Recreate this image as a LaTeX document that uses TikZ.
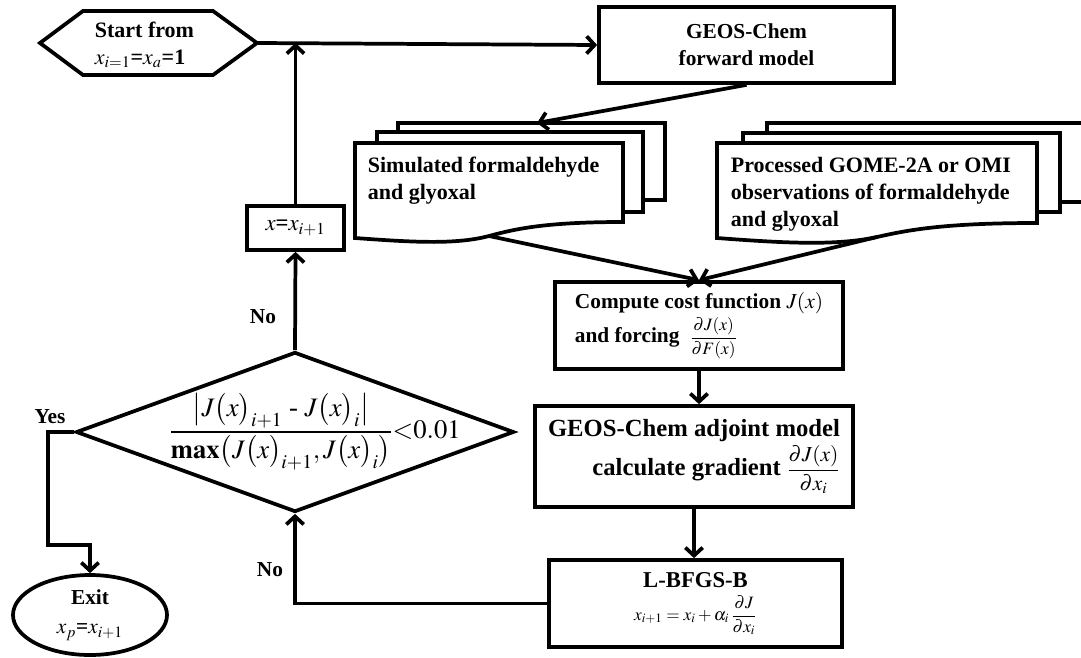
\documentclass[tikz,border=0pt]{standalone}
\usepackage{amsmath}
\usepackage{mathptmx}
\usepackage{fontspec}
\setmainfont{Liberation Serif}
\usetikzlibrary{arrows.meta,shapes.geometric}
\tikzset{every picture/.style={line width=2.8pt}}

\begin{document}
\begin{tikzpicture}[x=0.75pt,y=0.75pt,yscale=-1,xscale=1,
  box/.style={draw, rectangle, inner sep=2pt, font=\fontsize{16}{20}\selectfont\bfseries},
  doctext/.style={anchor=north west, align=left, inner sep=0pt, font=\fontsize{16.5}{20.25}\selectfont\bfseries},
  arr/.style={-{Straight Barb[length=6pt,width=13pt]}},
  yn/.style={font=\fontsize{16}{18}\selectfont\bfseries}]
\useasboundingbox (0,0) rectangle (1081,657);

%Shape: Hexagon (start)
\draw (40,43) -- (83,11) -- (213,11) -- (257,43) -- (213,75) -- (83,75) -- cycle ;
\coordinate (startE) at (257,43);
\node [anchor=west, align=left, inner sep=0pt, font=\fontsize{16.5}{20}\selectfont\bfseries] (start) at (93,45) {Start from\\$x_{i=1}$=$x_a$=1};

%Shape: Rectangle (forward model)
\node [box, minimum width=221.25pt, minimum height=57pt, align=center] (fwd) at (746.5,45) {GEOS-Chem\\forward model};

%Shape: Document stack (simulated)
\draw [fill=white] (398,123) rectangle (665,200) ;
\draw [fill=white] (377,132) rectangle (643,212) ;
\draw [fill=white] (355,143) -- (623,143) -- (623,222) .. controls (545,222) and (515,229) .. (489,236) .. controls (455,245) and (410,242) .. (355,238) -- cycle ;
\node [doctext] (sim) at (366,155) {Simulated formaldehyde\\and glyoxal};
\coordinate (simtop) at (537,123);
\coordinate (simout) at (489,236);

%Shape: Document stack (observations)
\draw [fill=white] (767,123) rectangle (1100,202) ;
\draw [fill=white] (743,133) rectangle (1060,212) ;
\draw [fill=white] (717,143) -- (1037,143) -- (1037,223) .. controls (944,223) and (908,230) .. (877,237) .. controls (836,246) and (783,243) .. (717,238) -- cycle ;
\node [doctext] (obs) at (729,155) {Processed GOME-2A or OMI\\observations of formaldehyde\\and glyoxal};
\coordinate (obsout) at (877,237);

%Shape: Rectangle (cost function)
\node [box, minimum width=216pt, minimum height=65.25pt, align=left] (comp) at (699,325.5) {Compute cost function $J(x)$\\[2pt]and forcing \ {\fontsize{13}{15}\selectfont$\dfrac{\partial J(x)}{\partial F(x)}$}};

%Shape: Rectangle (adjoint)
\node [box, minimum width=238.5pt, minimum height=75.75pt, align=right, font=\fontsize{18.5}{22}\selectfont\bfseries] (adj) at (694,456.5) {GEOS-Chem adjoint model\\[2pt]calculate gradient {\fontsize{16}{18}\selectfont$\dfrac{\partial J(x)}{\partial x_i}$}};

%Shape: Rectangle (L-BFGS-B)
\node [box, minimum width=219.75pt, minimum height=65.25pt, align=center, font=\fontsize{17}{20}\selectfont\bfseries] (lbfgs) at (695.5,603.5) {L-BFGS-B\\[5pt]{\fontsize{13}{15}\selectfont\mdseries $x_{i+1}=x_i+\alpha_i\,\dfrac{\partial J}{\partial x_i}$}};

%Shape: Rectangle (update)
\node [box, minimum width=72.75pt, minimum height=33pt, font=\fontsize{17}{20}\selectfont\bfseries] (upd) at (295.5,228) {$x$=$x_{i+1}$};

%Shape: Diamond (convergence test)
\node [draw, diamond, minimum width=328.5pt, minimum height=120pt, inner sep=0pt] (check) at (295,432) {};
\node [inner sep=0pt, font=\fontsize{20}{24}\selectfont] (crit) at (315,432) {$\dfrac{\bigl|J\bigl(x\bigr)_{i+1}\ \text{-}\ J\bigl(x\bigr)_{i}\bigr|}{\mathbf{max}\bigl(J\bigl(x\bigr)_{i+1},J\bigl(x\bigr)_{i}\bigr)}{<}0.01$};

%Shape: Ellipse (exit)
\node [draw, ellipse, minimum width=115.5pt, minimum height=60pt, inner sep=0pt, align=center, font=\fontsize{16}{22}\selectfont\bfseries] (exit) at (90,615) {Exit\\$x_p$=$x_{i+1}$};

% Text Node
\node [yn] (yes) at (50,417) {Yes};
% Text Node
\node [yn] (no1) at (263,317) {No};
% Text Node
\node [yn] (no2) at (270,570) {No};

%Straight Lines
\draw [arr] (startE) -- (fwd.west) ;
\draw [arr] (upd.north) -- (upd.north |- startE) ;
\draw [arr] (fwd.south) -- (simtop) ;
\draw [arr] (simout) -- (comp.north) ;
\draw [arr] (obsout) -- (comp.north) ;
\draw [arr] (comp.south) -- (comp.south |- adj.north) ;
\draw [arr] (adj.south) -- (adj.south |- lbfgs.north) ;
\draw [arr] (lbfgs.west) -| (check.south) ;
\draw [arr] (check.north) -- (upd.south) ;
\draw [arr] (check.west) -| (48,545) -| (exit.north) ;

\end{tikzpicture}
\end{document}
